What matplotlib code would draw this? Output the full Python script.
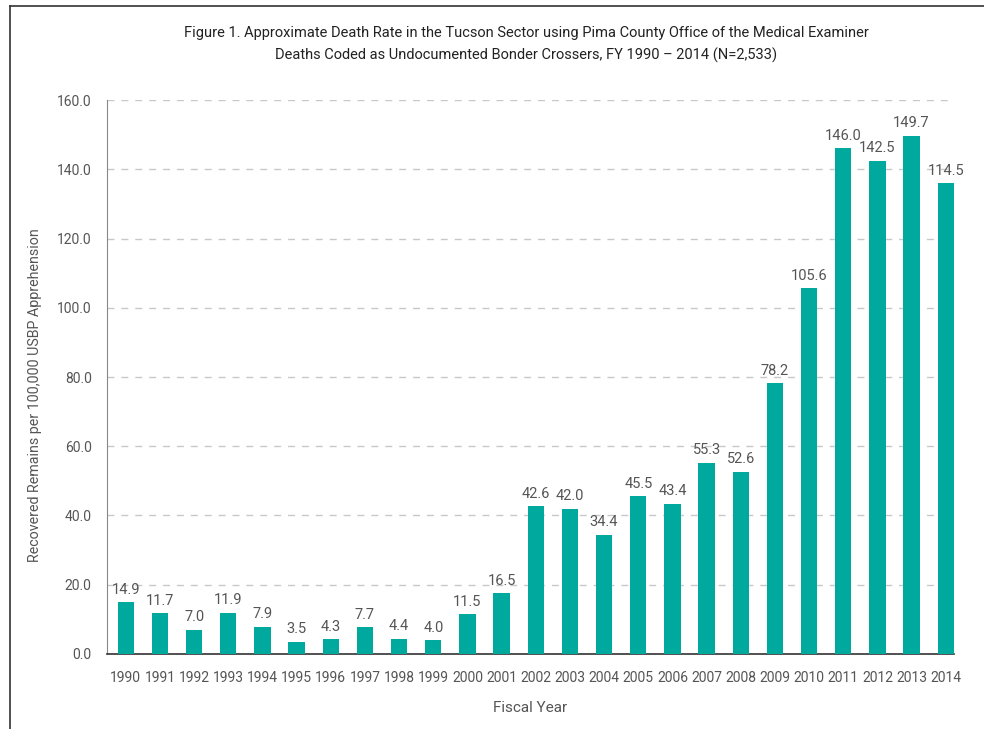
import numpy as np
import matplotlib.pyplot as plt
from matplotlib.lines import Line2D

# ── data ─────────────────────────────────────────────────────────────
years = [str(y) for y in range(1990, 2015)]
# bar heights as drawn in the figure
bar_heights = [14.9, 11.7, 7.0, 11.9, 7.9, 3.5, 4.3, 7.7, 4.4, 4.0, 11.5,
               17.5, 42.6, 42.0, 34.4, 45.5, 43.4, 55.3, 52.6, 78.2, 105.6,
               146.0, 142.5, 149.7, 136.0]
# value labels as printed above the bars
value_labels = ["14.9", "11.7", "7.0", "11.9", "7.9", "3.5", "4.3", "7.7",
                "4.4", "4.0", "11.5", "16.5", "42.6", "42.0", "34.4", "45.5",
                "43.4", "55.3", "52.6", "78.2", "105.6", "146.0", "142.5",
                "149.7", "114.5"]
y_ticks = [0, 20, 40, 60, 80, 100, 120, 140, 160]

BAR_COLOR = "#00a99d"
TEXT_COLOR = "#555555"

plt.rcParams["font.family"] = ["Roboto", "DejaVu Sans"]

fig = plt.figure(figsize=(9.84, 7.29), dpi=100)
ax = fig.add_axes([0.1087, 0.1029, 0.8608, 0.7599])

x = np.arange(len(years))
ax.bar(x, bar_heights, width=0.476, color=BAR_COLOR, zorder=3)

for xi, h, lab in zip(x, bar_heights, value_labels):
    ax.annotate(lab, (xi, h), xytext=(0, 4), textcoords="offset points",
                ha="center", va="bottom", fontsize=10.5, color=TEXT_COLOR)

ax.set_xlim(-0.55, 24.24)
ax.set_ylim(0, 160)
ax.set_yticks(y_ticks)
ax.set_yticklabels([f"{v:.1f}" for v in y_ticks])
ax.set_xticks(x)
ax.set_xticklabels(years)
ax.tick_params(axis="both", length=0, labelsize=10, colors=TEXT_COLOR)
ax.tick_params(axis="y", pad=11)
ax.tick_params(axis="x", pad=12)

ax.grid(axis="y", color="#c8c8c8", ls=(0, (5, 5)), lw=1, zorder=0)
for s in ("top", "right"):
    ax.spines[s].set_visible(False)
ax.spines["left"].set_color("#888888")
ax.spines["bottom"].set_color("#333333")
ax.spines["bottom"].set_linewidth(1.2)

ax.set_ylabel("Recovered Remains per 100,000 USBP Apprehension",
              fontsize=10.3, color=TEXT_COLOR)
ax.yaxis.set_label_coords(-0.077, 0.468)
ax.set_xlabel("Fiscal Year", fontsize=11, color=TEXT_COLOR, labelpad=12)

fig.text(0.535, 0.964,
         "Figure 1. Approximate Death Rate in the Tucson Sector using Pima County Office of the Medical Examiner\n"
         "Deaths Coded as Undocumented Bonder Crossers, FY 1990 – 2014 (N=2,533)",
         ha="center", va="top", fontsize=10.5, color="#222222", linespacing=1.6)

# page frame (top and left edges)
fig.add_artist(Line2D([0.0102, 1.0], [0.9918, 0.9918], color="#333333", lw=1.2,
                      transform=fig.transFigure))
fig.add_artist(Line2D([0.0102, 0.0102], [0.0, 0.9918], color="#333333", lw=1.2,
                      transform=fig.transFigure))

fig.savefig("out.png", dpi=100)
